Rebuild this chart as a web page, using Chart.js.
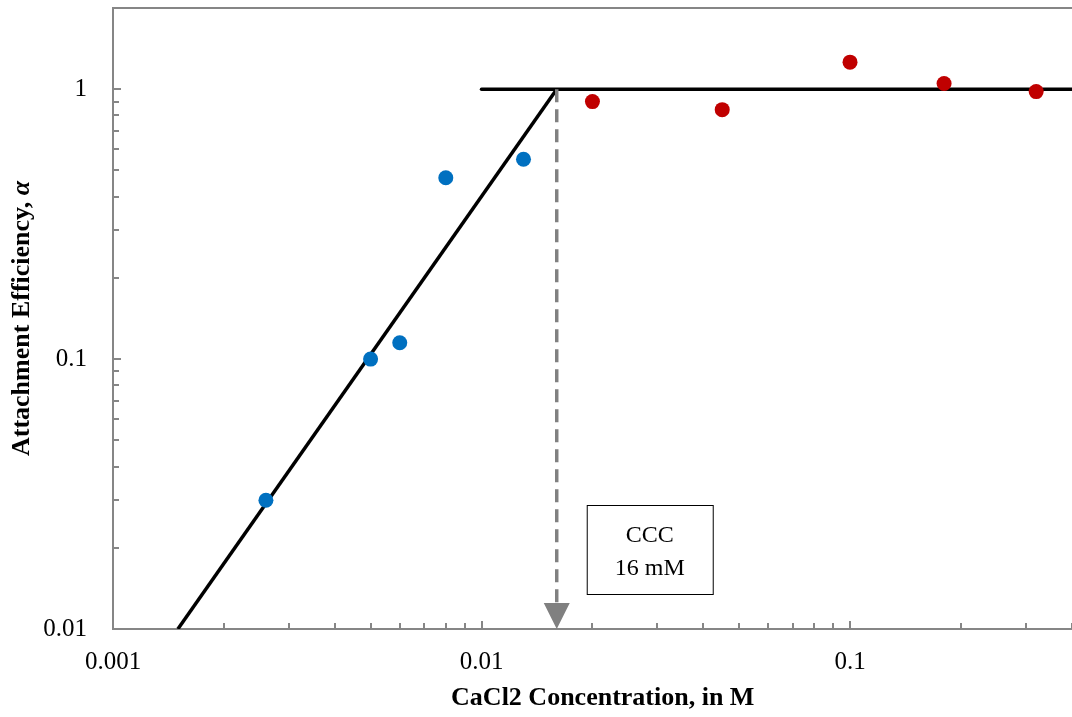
<!DOCTYPE html>
<html>
<head>
<meta charset="utf-8">
<title>Attachment efficiency vs CaCl2</title>
<script src="https://cdn.jsdelivr.net/npm/chart.js@4.4.1/dist/chart.umd.min.js"></script>
<style>
  html, body { margin: 0; padding: 0; background: #fff; overflow: hidden; }
  #wrap { position: relative; width: 1100px; height: 717px; }
</style>
</head>
<body>
<div id="wrap"><canvas id="alphaChart"></canvas></div>
<script>
// concentrações (M) e eficiência de ligação medidas
const concBaixa = [0.0026, 0.005, 0.006, 0.008, 0.013];
const alphaBaixa = [0.03, 0.1, 0.115, 0.47, 0.55];
const concAlta = [0.02, 0.045, 0.1, 0.18, 0.32];
const alphaAlta = [0.9, 0.84, 1.26, 1.05, 0.98];

const X_MIN = 0.001, X_MAX = 0.455;
const Y_MIN = 0.01, Y_MAX = 2;

// ajuste: reta no regime lento até a CCC, depois patamar alfa = 1
const CCC = 0.016;
const retaConc = [0.0015, CCC];
const retaAlpha = [0.01, 1];
const patamarConc = [0.01, X_MAX];
const patamarAlpha = [1, 1];

const rotulosX = ['0.001', '0.01', '0.1'];
const rotulosY = ['0.01', '0.1', '1'];

const FONTE = '"Liberation Serif", "Times New Roman", serif';
const CINZA = '#868686';

const pontos = (xs, ys) => xs.map((x, i) => ({ x, y: ys[i] }));
const ehDecada = v => Math.abs(Math.log10(v) - Math.round(Math.log10(v))) < 1e-6;

// valores 1..9 x 10^n estritamente dentro do intervalo
function marcasLog(min, max) {
  const lista = [];
  for (let e = Math.floor(Math.log10(min)); e <= Math.ceil(Math.log10(max)); e++) {
    for (let s = 1; s <= 9; s++) {
      const v = s * Math.pow(10, e);
      if (v > min * 1.0001 && v < max * 0.9999) lista.push(v);
    }
  }
  return lista;
}

function rotulo(lista) {
  return function (v) {
    if (!ehDecada(v)) return '';
    const txt = String(Number(v.toPrecision(1)));
    return lista.includes(txt) ? txt : '';
  };
}

// zera o espaço extra que o Chart.js reserva para rótulos nas pontas
function semFolga(s) {
  s.paddingTop = 0;
  s.paddingBottom = 0;
  s.paddingLeft = 0;
  s.paddingRight = 0;
}

// marcas de escala voltadas para dentro da área do gráfico
const marcasInternas = {
  id: 'marcasInternas',
  afterDraw(chart) {
    const { ctx, chartArea, scales } = chart;
    ctx.save();
    ctx.strokeStyle = CINZA;
    ctx.lineWidth = 2;
    marcasLog(X_MIN, X_MAX).forEach(v => {
      const px = Math.round(scales.x.getPixelForValue(v));
      const len = ehDecada(v) ? 8 : 6;
      ctx.beginPath();
      ctx.moveTo(px, chartArea.bottom);
      ctx.lineTo(px, chartArea.bottom - len);
      ctx.stroke();
    });
    marcasLog(Y_MIN, Y_MAX).forEach(v => {
      const py = Math.round(scales.y.getPixelForValue(v));
      const len = ehDecada(v) ? 8 : 6;
      ctx.beginPath();
      ctx.moveTo(chartArea.left, py);
      ctx.lineTo(chartArea.left + len, py);
      ctx.stroke();
    });
    ctx.restore();
  }
};

// seta da CCC e caixa de texto
const anotacaoCCC = {
  id: 'anotacaoCCC',
  afterDatasetsDraw(chart) {
    const { ctx, scales } = chart;
    const x = scales.x.getPixelForValue(CCC);
    const yb = scales.y.getPixelForValue(Y_MIN);
    ctx.save();
    ctx.fillStyle = '#808080';
    ctx.beginPath();
    ctx.moveTo(x - 13, yb - 26);
    ctx.lineTo(x + 13, yb - 26);
    ctx.lineTo(x, yb);
    ctx.closePath();
    ctx.fill();

    const bx = x + 30, by = 505, bw = 126, bh = 89;
    ctx.fillStyle = '#fff';
    ctx.fillRect(bx, by, bw, bh);
    ctx.strokeStyle = '#000';
    ctx.lineWidth = 1;
    ctx.strokeRect(bx + 0.5, by + 0.5, bw, bh);
    ctx.fillStyle = '#000';
    ctx.font = '24px ' + FONTE;
    ctx.textAlign = 'center';
    ctx.textBaseline = 'middle';
    ctx.fillText('CCC', bx + bw / 2, by + 31);
    ctx.fillText('16 mM', bx + bw / 2, by + 64);
    ctx.restore();
  }
};

// título do eixo y com o alfa em itálico
const tituloY = {
  id: 'tituloY',
  afterDraw(chart) {
    const { ctx, chartArea } = chart;
    const parte1 = 'Attachment Efficiency, ';
    const parte2 = 'α';
    const f1 = 'bold 26px ' + FONTE;
    const f2 = 'italic bold 26px ' + FONTE;
    ctx.save();
    ctx.font = f1;
    const w1 = ctx.measureText(parte1).width;
    ctx.font = f2;
    const w2 = ctx.measureText(parte2).width;
    ctx.translate(22, (chartArea.top + chartArea.bottom) / 2);
    ctx.rotate(-Math.PI / 2);
    ctx.fillStyle = '#000';
    ctx.textBaseline = 'middle';
    ctx.textAlign = 'left';
    const x0 = -(w1 + w2) / 2;
    ctx.font = f1;
    ctx.fillText(parte1, x0, 0);
    ctx.font = f2;
    ctx.fillText(parte2, x0 + w1, 0);
    ctx.restore();
  }
};

const ctx = document.getElementById('alphaChart').getContext('2d');
new Chart(ctx, {
  type: 'scatter',
  data: {
    datasets: [
      {
        label: 'alpha < 1',
        data: pontos(concBaixa, alphaBaixa),
        backgroundColor: '#0070C0',
        borderWidth: 0,
        pointRadius: 7.5,
        order: 1
      },
      {
        label: 'alpha = 1',
        data: pontos(concAlta, alphaAlta),
        backgroundColor: '#C00000',
        borderWidth: 0,
        pointRadius: 7.5,
        order: 1
      },
      {
        label: 'CCC',
        type: 'line',
        data: pontos([CCC, CCC], [1, Y_MIN]),
        borderColor: '#808080',
        borderWidth: 3.5,
        borderDash: [13, 7],
        pointRadius: 0,
        order: 2
      },
      {
        label: 'reta',
        type: 'line',
        data: pontos(retaConc, retaAlpha),
        borderColor: '#000',
        borderWidth: 3.5,
        pointRadius: 0,
        order: 3
      },
      {
        label: 'patamar',
        type: 'line',
        data: pontos(patamarConc, patamarAlpha),
        borderColor: '#000',
        borderWidth: 3.5,
        borderCapStyle: 'round',
        pointRadius: 0,
        order: 3
      }
    ]
  },
  options: {
    responsive: true,
    maintainAspectRatio: false,
    animation: false,
    layout: { padding: 0 },
    plugins: {
      legend: { display: false },
      tooltip: { enabled: false }
    },
    scales: {
      x: {
        type: 'logarithmic',
        position: 'bottom',
        min: X_MIN,
        max: X_MAX,
        afterFit(s) { s.height = 88; semFolga(s); },
        grid: { display: false },
        border: { color: CINZA, width: 2 },
        ticks: {
          autoSkip: false,
          maxRotation: 0,
          padding: 10,
          color: '#000',
          font: { family: FONTE, size: 25 },
          callback: rotulo(rotulosX)
        },
        title: {
          display: true,
          text: 'CaCl2 Concentration, in M',
          color: '#000',
          font: { family: FONTE, size: 26, weight: 'bold' },
          padding: { top: 0, bottom: 3 }
        }
      },
      xTopo: {
        type: 'logarithmic',
        position: 'top',
        min: X_MIN,
        max: X_MAX,
        afterFit(s) { s.height = 8; semFolga(s); },
        grid: { display: false },
        border: { color: CINZA, width: 2 },
        ticks: { display: false }
      },
      y: {
        type: 'logarithmic',
        position: 'left',
        min: Y_MIN,
        max: Y_MAX,
        afterFit(s) { s.width = 113; semFolga(s); },
        grid: { display: false },
        border: { color: CINZA, width: 2 },
        ticks: {
          autoSkip: false,
          padding: 18,
          color: '#000',
          font: { family: FONTE, size: 25 },
          callback: rotulo(rotulosY)
        }
      }
    }
  },
  plugins: [marcasInternas, anotacaoCCC, tituloY]
});
</script>
</body>
</html>
